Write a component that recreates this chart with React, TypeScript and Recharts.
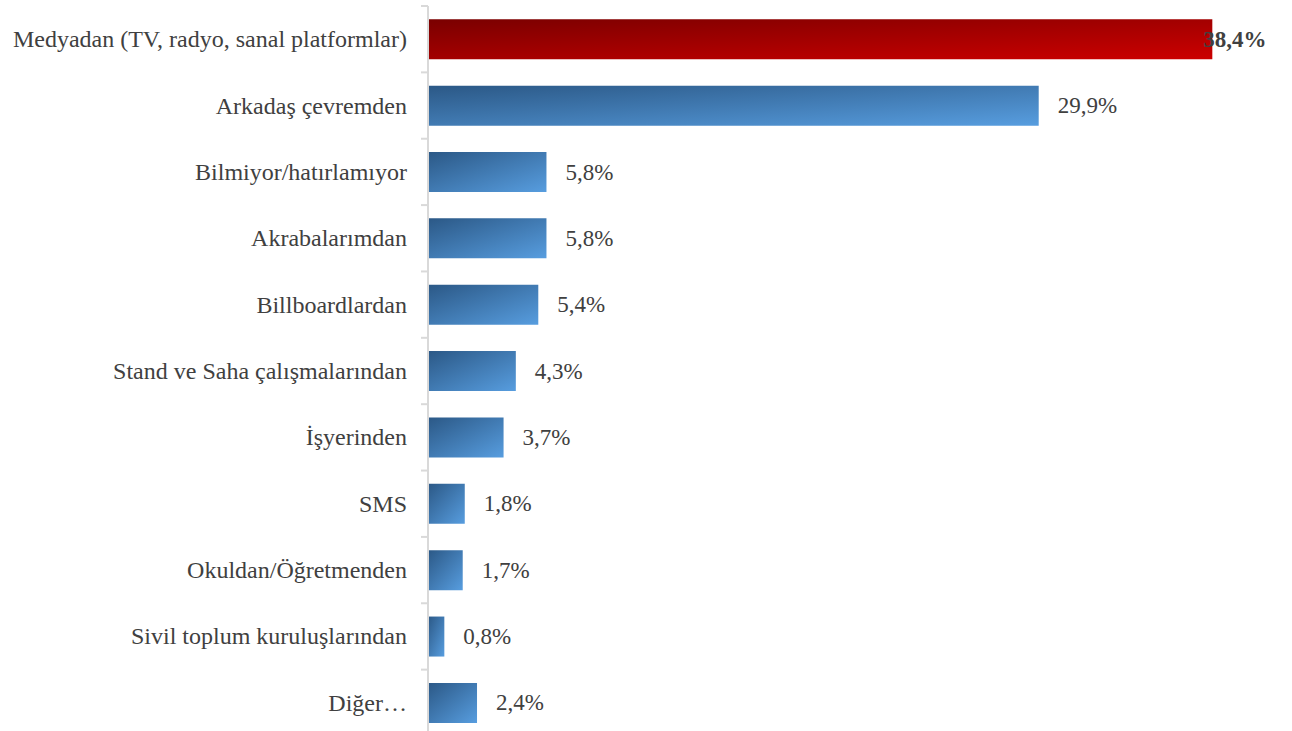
import { BarChart, Bar, XAxis, YAxis, Cell, LabelList } from "recharts";

const categories = [
  "Medyadan (TV, radyo, sanal platformlar)",
  "Arkadaş çevremden",
  "Bilmiyor/hatırlamıyor",
  "Akrabalarımdan",
  "Billboardlardan",
  "Stand ve Saha çalışmalarından",
  "İşyerinden",
  "SMS",
  "Okuldan/Öğretmenden",
  "Sivil toplum kuruluşlarından",
  "Diğer…",
];

const shares = [38.4, 29.9, 5.8, 5.8, 5.4, 4.3, 3.7, 1.8, 1.7, 0.8, 2.4];

const data = categories.map((name, i) => ({ name, value: shares[i] }));

const FONT = "'Liberation Serif', 'Times New Roman', serif";
const TEXT = "#404040";
const AXIS = "#d9d9d9";
const HEIGHT = 736;
const MARGIN_TOP = 6;
const BAND = (HEIGHT - MARGIN_TOP) / categories.length;

function fmt(v: number) {
  return v.toFixed(1).replace(".", ",") + "%";
}

// recharts hands the tick 8px left of the axis line
function CategoryTick(props: any) {
  const { x, y, payload } = props;
  const top = y - BAND / 2;
  return (
    <g>
      <line x1={x + 1} x2={x + 8} y1={top} y2={top} stroke={AXIS} strokeWidth={2} />
      <text
        x={x - 13}
        y={y}
        textAnchor="end"
        dominantBaseline="central"
        fill={TEXT}
        fontFamily={FONT}
        fontSize={24}
      >
        {payload.value}
      </text>
    </g>
  );
}

function ValueLabel(props: any) {
  const { x, y, width, height, value, index } = props;
  const first = index === 0;
  return (
    <text
      x={first ? x + width - 9 : x + width + 19}
      y={y + height / 2}
      dominantBaseline="central"
      fill={TEXT}
      fontFamily={FONT}
      fontSize={23}
      fontWeight={first ? "bold" : "normal"}
    >
      {fmt(value)}
    </text>
  );
}

export default function App() {
  return (
    <div
      style={{
        position: "fixed",
        top: 0,
        left: 0,
        width: 1292,
        height: 731,
        overflow: "hidden",
        background: "#fff",
      }}
    >
      <BarChart
        width={1292}
        height={HEIGHT}
        data={data}
        layout="vertical"
        margin={{ top: MARGIN_TOP, right: 47, bottom: 0, left: 0 }}
        barCategoryGap="20%"
      >
        <defs>
          <linearGradient id="redFill" x1="0" y1="0" x2="1" y2="1">
            <stop offset="0%" stopColor="#7a0000" />
            <stop offset="100%" stopColor="#cc0000" />
          </linearGradient>
          <linearGradient id="blueFill" x1="0" y1="0" x2="1" y2="1">
            <stop offset="0%" stopColor="#2b5886" />
            <stop offset="100%" stopColor="#579ddf" />
          </linearGradient>
        </defs>
        <XAxis type="number" domain={[0, 40]} hide />
        <YAxis
          type="category"
          dataKey="name"
          width={428}
          axisLine={{ stroke: AXIS, strokeWidth: 2 }}
          tickLine={false}
          tick={<CategoryTick />}
          interval={0}
        />
        <Bar dataKey="value" isAnimationActive={false}>
          {data.map((d, i) => (
            <Cell key={d.name} fill={i === 0 ? "url(#redFill)" : "url(#blueFill)"} />
          ))}
          <LabelList dataKey="value" content={<ValueLabel />} />
        </Bar>
      </BarChart>
    </div>
  );
}
